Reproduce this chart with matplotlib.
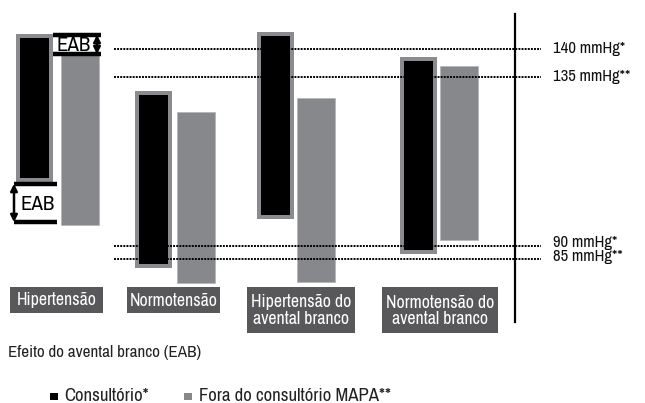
import numpy as np
import matplotlib
matplotlib.use('Agg')
from matplotlib import pyplot as plt
from matplotlib import font_manager
from matplotlib.patches import Rectangle

# look for a narrow face, the original uses a condensed grotesque
narrow = None
for f in font_manager.fontManager.ttflist:
    if ('Narrow' in f.name or 'Condensed' in f.name) and f.style == 'normal':
        narrow = f.name
        break
stretch = 'normal'
if narrow is None:
    for f in font_manager.fontManager.ttflist:
        if f.stretch in ('condensed', 'semi-condensed', 'extra-condensed') and f.style == 'normal':
            narrow = f.name
            stretch = 'condensed'
            break
if narrow is None:
    narrow = 'Roboto'
plt.rcParams['font.family'] = [narrow, 'DejaVu Sans']
plt.rcParams['font.stretch'] = stretch

# schematic chart, levels (chart units, top = high pressure)
categories = ['Hipertensão', 'Normotensão', 'Hipertensão do\navental branco', 'Normotensão do\navental branco']
consult_top = [34, 91, 32, 57]
consult_bot = [182, 268, 219, 254]
fora_top = [53, 112, 98, 66]
fora_bot = [225, 283, 282, 240]
limit_levels = [49, 77, 246, 259]
limit_labels = ['140 mmHg*', '135 mmHg**', '90 mmHg*', '85 mmHg**']

c_x = [16, 135, 257, 400]
f_x = [61, 177, 297, 440]
bw = 37
box_x = [10, 127, 247, 382]
box_w = [93, 93, 108, 116]
box_h = [26, 26, 46, 46]

dark = '#000000'
grey = '#87888b'
border = '#8a8b8e'
labbg = '#58585a'
k = 0.92 if narrow == 'Roboto' else 1.0

fig = plt.figure(figsize=(6.45, 4.03), dpi=100)
ax = fig.add_axes([0, 0, 1, 1])
ax.set_xlim(0, 645)
ax.set_ylim(403, 0)
ax.axis('off')

c_top = np.array(consult_top)
c_bot = np.array(consult_bot)
ax.bar(c_x, c_bot - c_top, bottom=c_top, width=bw, align='edge', color=border, zorder=2)
ax.bar(np.array(c_x) + 4, c_bot - c_top - 8, bottom=c_top + 4, width=bw - 8, align='edge',
       color=dark, zorder=3)
f_top = np.array(fora_top)
f_bot = np.array(fora_bot)
ax.bar(f_x, f_bot - f_top, bottom=f_top, width=bw + 1, align='edge', color=grey,
       edgecolor='#b5b6b8', linewidth=0.6, zorder=2)

# limit lines
label_y = [48, 77, 242, 256]
for lv, lab, ly in zip(limit_levels, limit_labels, label_y):
    ax.plot([114, 541], [lv, lv], color='black', linestyle=(0, (1, 0.6)), linewidth=1.4, zorder=4)
    ax.text(553, ly, lab, fontsize=12 * k, va='center', ha='left', color='#111111')
ax.plot([515, 515], [14, 322], color='black', linewidth=1.6, zorder=5)

# EAB marks
ax.add_patch(Rectangle((53, 36), 46, 17, facecolor='white', edgecolor='none', zorder=6))
ax.plot([53, 101], [35, 35], color='black', linewidth=3.2, zorder=7, solid_capstyle='butt')
ax.plot([53, 101], [54, 54], color='black', linewidth=3.2, zorder=7, solid_capstyle='butt')
ax.annotate('', xy=(97, 32), xytext=(97, 57),
            arrowprops=dict(arrowstyle='<|-|>', color='black', lw=1.8, mutation_scale=10), zorder=8)
ax.text(56, 45.5, 'EAB', fontsize=15 * k, va='center', ha='left', zorder=8)

ax.add_patch(Rectangle((14, 185), 44, 36, facecolor='white', edgecolor='none', zorder=6))
ax.plot([14, 57], [184, 184], color='black', linewidth=3.2, zorder=7, solid_capstyle='butt')
ax.plot([14, 57], [222, 222], color='black', linewidth=3.2, zorder=7, solid_capstyle='butt')
ax.annotate('', xy=(14, 181), xytext=(14, 225),
            arrowprops=dict(arrowstyle='<|-|>', color='black', lw=1.8, mutation_scale=10), zorder=8)
ax.text(21, 204, 'EAB', fontsize=15 * k, va='center', ha='left', zorder=8)

# category labels
for cat, bx, bwid, bh in zip(categories, box_x, box_w, box_h):
    ax.add_patch(Rectangle((bx, 287), bwid, bh, facecolor=labbg, edgecolor='none', zorder=2))
    ax.text(bx + bwid / 2, 287 + bh / 2 + 0.5, cat, fontsize=12.8 * k, color='white', ha='center',
            va='center', linespacing=1.0, zorder=3)

ax.text(8, 352, 'Efeito do avental branco (EAB)', fontsize=12.3 * k, va='center', ha='left',
        color='#222222')

# legend
ax.add_patch(Rectangle((50, 393), 8, 7, facecolor=dark, edgecolor='none'))
ax.text(64, 396, 'Consultório*', fontsize=13.5 * k, va='center', ha='left', color='#222222')
ax.add_patch(Rectangle((184, 393), 8, 7, facecolor=grey, edgecolor='none'))
ax.text(199, 396, 'Fora do consultório MAPA**', fontsize=13.5 * k, va='center', ha='left',
        color='#222222')

fig.savefig('out.png', dpi=100)
